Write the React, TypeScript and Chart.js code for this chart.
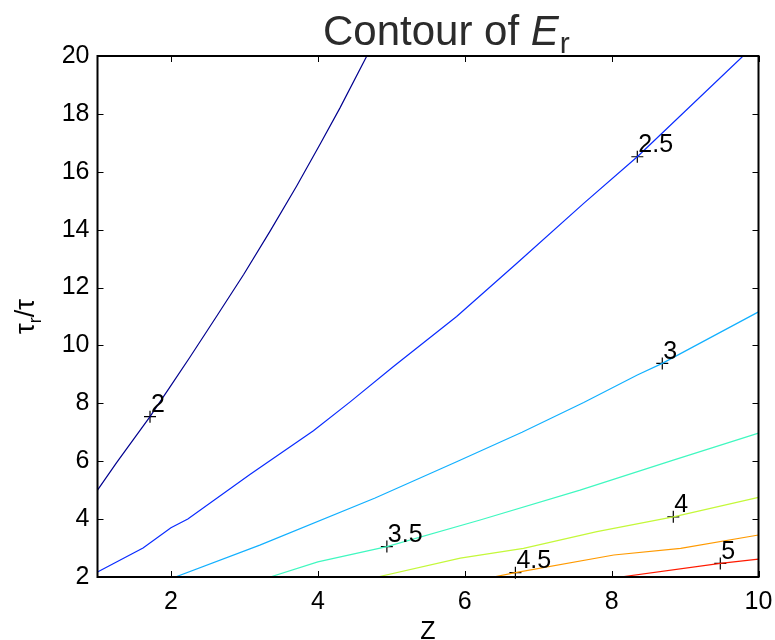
import React, { useEffect, useRef } from "react";
import { Chart, registerables } from "chart.js";

Chart.register(...registerables);

// Contour levels of E_r and their colours (jet-style ramp)
const levels = ["2", "2.5", "3", "3.5", "4", "4.5", "5"];
const levelColors = ["#00008f", "#0a2cff", "#12b0ff", "#40f8c0", "#c4f83a", "#ff9a00", "#ff1a00"];

// Contour paths: Z values and matching tau_r/tau values
const z20 = [1, 1.26, 1.715, 1.99, 2.26, 2.62, 2.99, 3.35, 3.71, 4.03, 4.3, 4.667];
const t20 = [5.0, 5.95, 7.54, 8.58, 9.6, 11.0, 12.45, 13.95, 15.5, 16.95, 18.2, 20];

const z25 = [1, 1.62, 2.0, 2.23, 3.08, 3.94, 4.44, 5.03, 5.89, 6.71, 7.62, 8.35, 9.79];
const t25 = [2.17, 3.0, 3.7, 4.0, 5.55, 7.05, 8.05, 9.27, 11.0, 12.84, 14.91, 16.52, 20];

const z30 = [2.06, 3.21, 4.78, 5.89, 6.78, 7.62, 8.35, 8.69, 10];
const t30 = [2, 3.1, 4.73, 5.98, 7.0, 8.03, 8.98, 9.38, 11.16];

const z35 = [3.35, 4.0, 4.94, 6.21, 7.57, 8.84, 10];
const t35 = [2, 2.52, 3.05, 3.97, 5.0, 6.04, 6.97];

const z40 = [4.81, 5.94, 6.8, 7.8, 8.84, 10];
const t40 = [2, 2.65, 2.99, 3.57, 4.08, 4.75];

const z45 = [6.39, 6.69, 8.03, 8.94, 10];
const t45 = [2, 2.15, 2.76, 2.99, 3.45];

const z50 = [8.12, 9.48, 10];
const t50 = [2, 2.47, 2.62];

// Where each level is labelled
const labelZ = [1.715, 8.35, 8.69, 4.94, 8.84, 6.69, 9.48];
const labelT = [7.54, 16.52, 9.38, 3.05, 4.08, 2.15, 2.47];

const zTicks = [2, 4, 6, 8, 10];
const tTicks = [2, 4, 6, 8, 10, 12, 14, 16, 18, 20];

const FONT = "'Liberation Sans', Arial, Helvetica, sans-serif";

const paths: [number[], number[]][] = [
  [z20, t20],
  [z25, t25],
  [z30, t30],
  [z35, t35],
  [z40, t40],
  [z45, t45],
  [z50, t50],
];

const frameAndLabels = {
  id: "frameAndLabels",
  afterDatasetsDraw(chart: any) {
    const ctx = chart.ctx as CanvasRenderingContext2D;
    const { left, right, top, bottom } = chart.chartArea;
    const xs = chart.scales.x;
    const ys = chart.scales.y;
    ctx.save();

    // level labels next to the "+" markers
    const meta = chart.getDatasetMeta(chart.data.datasets.length - 1);
    ctx.fillStyle = "#000";
    ctx.font = `25px ${FONT}`;
    ctx.textAlign = "left";
    ctx.textBaseline = "alphabetic";
    meta.data.forEach((pt: any, i: number) => {
      ctx.fillText(levels[i], pt.x + 1, pt.y - 4.5);
    });

    // box
    ctx.strokeStyle = "#000";
    ctx.lineWidth = 2;
    ctx.strokeRect(left, top, right - left, bottom - top);

    // inward ticks on all four sides
    ctx.lineWidth = 1;
    const tl = 6;
    ctx.beginPath();
    zTicks.forEach((v) => {
      const px = Math.round(xs.getPixelForValue(v)) + 0.5;
      ctx.moveTo(px, bottom);
      ctx.lineTo(px, bottom - tl);
      ctx.moveTo(px, top);
      ctx.lineTo(px, top + tl);
    });
    tTicks.forEach((v) => {
      const py = Math.round(ys.getPixelForValue(v)) + 0.5;
      ctx.moveTo(left, py);
      ctx.lineTo(left + tl, py);
      ctx.moveTo(right, py);
      ctx.lineTo(right - tl, py);
    });
    ctx.stroke();

    // axis titles
    ctx.fillStyle = "#000";
    ctx.font = `25px ${FONT}`;
    ctx.textAlign = "center";
    ctx.fillText("Z", (left + right) / 2, 639);

    ctx.save();
    ctx.translate(44, (top + bottom) / 2);
    ctx.rotate(-Math.PI / 2);
    const partA = "τ";
    const partB = "r";
    const partC = "/τ";
    ctx.font = `27px ${FONT}`;
    const wA = ctx.measureText(partA).width;
    const wC = ctx.measureText(partC).width;
    ctx.font = `18px ${FONT}`;
    const wB = ctx.measureText(partB).width;
    let x0 = -(wA + wB + wC) / 2;
    ctx.textAlign = "left";
    ctx.font = `27px ${FONT}`;
    ctx.fillText(partA, x0, -10);
    x0 += wA;
    ctx.font = `18px ${FONT}`;
    ctx.fillText(partB, x0, -3);
    x0 += wB;
    ctx.font = `27px ${FONT}`;
    ctx.fillText(partC, x0, -10);
    ctx.restore();

    // title: Contour of E_r
    ctx.fillStyle = "#2b2b2b";
    ctx.textAlign = "left";
    ctx.font = `42px ${FONT}`;
    const head = "Contour of ";
    let tx = 323;
    ctx.fillText(head, tx, 45);
    tx += ctx.measureText(head).width;
    ctx.font = `italic 42px ${FONT}`;
    ctx.fillText("E", tx, 45);
    tx += ctx.measureText("E").width;
    ctx.font = `30px ${FONT}`;
    ctx.fillText("r", tx + 1, 53);

    ctx.restore();
  },
};

export default function App() {
  const canvasRef = useRef<HTMLCanvasElement | null>(null);

  useEffect(() => {
    document.body.style.margin = "0";
    const canvas = canvasRef.current;
    if (!canvas) return;

    const lineSets = paths.map(([zs, ts], i) => ({
      label: levels[i],
      data: zs.map((z, k) => ({ x: z, y: ts[k] })),
      showLine: true,
      borderColor: levelColors[i],
      backgroundColor: levelColors[i],
      borderWidth: 1.2,
      pointRadius: 0,
      tension: 0,
    }));

    const markerSet = {
      label: "labels",
      data: labelZ.map((z, k) => ({ x: z, y: labelT[k] })),
      showLine: false,
      pointStyle: "cross" as const,
      pointRadius: 6,
      borderColor: "#000",
      backgroundColor: "#000",
      borderWidth: 1.2,
      clip: false as any,
    };

    const chart = new Chart(canvas, {
      type: "scatter",
      data: { datasets: [...lineSets, markerSet] as any },
      options: {
        responsive: false,
        animation: false,
        devicePixelRatio: 1,
        layout: { padding: { top: 56, right: 16.5, left: 0, bottom: 0 } },
        plugins: { legend: { display: false }, tooltip: { enabled: false }, title: { display: false } },
        scales: {
          x: {
            type: "linear",
            min: 1,
            max: 10,
            grid: { display: false, drawTicks: false },
            border: { display: false },
            afterBuildTicks: (s: any) => {
              s.ticks = zTicks.map((v) => ({ value: v }));
            },
            afterFit: (s: any) => {
              s.height = 63;
              s.paddingLeft = 0;
              s.paddingRight = 0;
            },
            ticks: {
              color: "#000",
              font: { family: FONT, size: 25 },
              padding: 10,
              maxRotation: 0,
              autoSkip: false,
            },
          },
          y: {
            type: "linear",
            min: 2,
            max: 20,
            grid: { display: false, drawTicks: false },
            border: { display: false },
            afterBuildTicks: (s: any) => {
              s.ticks = tTicks.map((v) => ({ value: v }));
            },
            afterFit: (s: any) => {
              s.width = 97.5;
              s.paddingTop = 0;
              s.paddingBottom = 0;
            },
            ticks: {
              color: "#000",
              font: { family: FONT, size: 25 },
              padding: 8,
              autoSkip: false,
            },
          },
        },
      },
      plugins: [frameAndLabels],
    });

    return () => chart.destroy();
  }, []);

  return (
    <div style={{ width: 775, height: 640, background: "#fff" }}>
      <canvas ref={canvasRef} width={775} height={640} />
    </div>
  );
}
